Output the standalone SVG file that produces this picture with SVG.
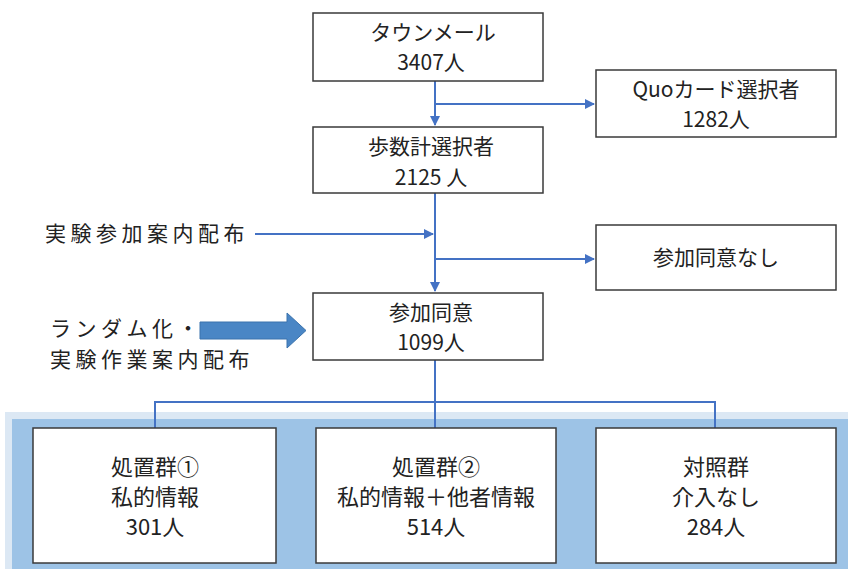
<svg xmlns="http://www.w3.org/2000/svg" width="848" height="569" viewBox="0 0 848 569">
<style>
.box{fill:#fff;stroke:#3a3a3a;stroke-width:1.5}
.t{font-family:"Noto Sans CJK JP","Noto Sans",sans-serif;font-size:21px;fill:#222;text-anchor:middle}
.b{font-size:22px}
.tl{font-family:"Noto Sans CJK JP","Noto Sans",sans-serif;font-size:21px;letter-spacing:4.5px;fill:#222}
.c{stroke:#4472c4;stroke-width:2;fill:none}
</style>
<defs>
<marker id="ah" viewBox="0 0 10 10" refX="9" refY="5" markerWidth="5" markerHeight="5" orient="auto"><path d="M0,0 L10,5 L0,10 z" fill="#4472c4"/></marker>
</defs>
<rect x="0" y="0" width="848" height="569" fill="#fff"/>
<rect x="5" y="412" width="843" height="157" fill="#dce8f4"/>
<rect x="12" y="419" width="836" height="150" fill="#9dc3e6"/>
<g id="connectors">
<path class="c" d="M435,81 V125" marker-end="url(#ah)"/>
<path class="c" d="M435,104 H594" marker-end="url(#ah)"/>
<path class="c" d="M435,193 V291" marker-end="url(#ah)"/>
<path class="c" d="M255,234 H433" marker-end="url(#ah)"/>
<path class="c" d="M435,259 H594" marker-end="url(#ah)"/>
<path class="c" d="M435,360 V402 M155,428 V402 H715 V428 M435,402 V428"/>
<polygon points="200,322 287,322 287,313 306,330.5 287,348 287,339 200,339" fill="#4a86c5" stroke="#3b73ad" stroke-width="1"/>
</g>
<g id="n1"><rect class="box" x="313" y="13" width="230" height="68"/><text class="t" x="433" y="40">タウンメール</text><text class="t" x="431" y="70">3407人</text></g>
<g id="n2"><rect class="box" x="596" y="70" width="240" height="67"/><text class="t" x="716" y="97">Quoカード選択者</text><text class="t" x="716" y="127">1282人</text></g>
<g id="n3"><rect class="box" x="313" y="127" width="230" height="66"/><text class="t" x="431" y="154">歩数計選択者</text><text class="t" x="431" y="185">2125 人</text></g>
<g id="l1"><text class="tl" x="45" y="241">実験参加案内配布</text></g>
<g id="n4"><rect class="box" x="596" y="225" width="240" height="65"/><text class="t" x="716" y="265">参加同意なし</text></g>
<g id="n5"><rect class="box" x="313" y="293" width="230" height="67"/><text class="t" x="431" y="320">参加同意</text><text class="t" x="431" y="350">1099人</text></g>
<g id="l2"><text class="tl" x="50" y="336">ランダム化・</text><text class="tl" x="50" y="367">実験作業案内配布</text></g>
<g id="n6"><rect class="box" x="33" y="428" width="243" height="135"/><text class="t b" x="155" y="475">処置群①</text><text class="t b" x="155" y="505">私的情報</text><text class="t b" x="155" y="535">301人</text></g>
<g id="n7"><rect class="box" x="316" y="428" width="240" height="135"/><text class="t b" x="436" y="475">処置群②</text><text class="t b" x="436" y="505">私的情報＋他者情報</text><text class="t b" x="436" y="535">514人</text></g>
<g id="n8"><rect class="box" x="596" y="428" width="240" height="135"/><text class="t b" x="716" y="475">対照群</text><text class="t b" x="716" y="505">介入なし</text><text class="t b" x="716" y="535">284人</text></g>
</svg>
